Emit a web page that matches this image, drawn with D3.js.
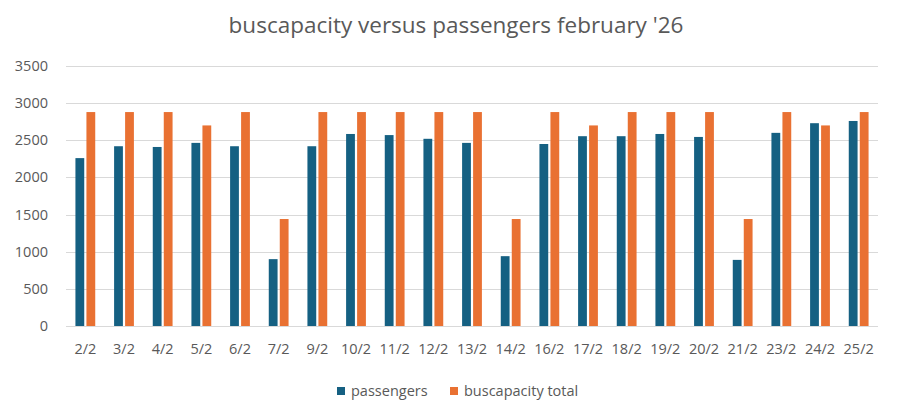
<!DOCTYPE html>
<html>
  <head>
  <title>buscapacity versus passengers</title>
  </head>
  <body>

  <svg id="svg" width="897" height="408"></svg>

  <script src="https://d3js.org/d3.v7.min.js"></script>
  <script>
        const days = ['2/2', '3/2', '4/2', '5/2', '6/2', '7/2', '9/2', '10/2', '11/2', '12/2', '13/2',
            '14/2', '16/2', '17/2', '18/2', '19/2', '20/2', '21/2', '23/2', '24/2', '25/2']
        const passengers = [2260, 2420, 2410, 2465, 2420, 900, 2420, 2585, 2570, 2520, 2465,
            940, 2450, 2555, 2555, 2585, 2545, 890, 2600, 2730, 2760]
        const capacity = [2880, 2880, 2880, 2700, 2880, 1440, 2880, 2880, 2880, 2880, 2880,
            1440, 2880, 2700, 2880, 2880, 2880, 1440, 2880, 2700, 2880]
        const yTicks = [0, 500, 1000, 1500, 2000, 2500, 3000, 3500]
        const seriesNames = ['passengers', 'buscapacity total']
        const colors = ['#156082', '#e97132']

        const svg = d3.select('#svg')
        const plotLeft = 66, plotRight = 878, plotTop = 66, plotBottom = 326

        const xscale = d3.scaleBand()
            .domain(days)
            .range([plotLeft, plotRight])
        const yscale = d3.scaleLinear()
            .domain([0, 3500])
            .range([plotBottom, plotTop])

        const barW = 8.8, gap = 2.2

        // gridlines
        svg.append('g')
            .selectAll('line')
            .data(yTicks)
            .join('line')
            .attr('x1', plotLeft)
            .attr('x2', plotRight)
            .attr('y1', d => Math.round(yscale(d)) + 0.5)
            .attr('y2', d => Math.round(yscale(d)) + 0.5)
            .attr('stroke', '#d9d9d9')
            .attr('stroke-width', 1)

        // y labels
        svg.append('g')
            .selectAll('text')
            .data(yTicks)
            .join('text')
            .attr('x', 48)
            .attr('y', d => yscale(d) + 5)
            .attr('text-anchor', 'end')
            .text(d => d)

        // bars
        const series = [passengers, capacity]
        series.forEach((vals, s) => {
            svg.append('g')
                .selectAll('rect')
                .data(vals)
                .join('rect')
                .attr('x', (d, i) => xscale(days[i]) + xscale.bandwidth() / 2 + (s === 0 ? -barW - gap / 2 : gap / 2))
                .attr('y', d => yscale(d))
                .attr('width', barW)
                .attr('height', d => plotBottom - yscale(d))
                .attr('fill', colors[s])
        })

        // x labels
        svg.append('g')
            .selectAll('text')
            .data(days)
            .join('text')
            .attr('x', d => xscale(d) + xscale.bandwidth() / 2)
            .attr('y', 354)
            .attr('text-anchor', 'middle')
            .text(d => d)

        // title
        svg.append('text')
            .attr('x', 456)
            .attr('y', 33)
            .attr('text-anchor', 'middle')
            .attr('font-size', 22.5)
            .text("buscapacity versus passengers february '26")

        // legend
        const legendX = [337, 450]
        const legend = svg.append('g')
            .selectAll('g')
            .data(seriesNames)
            .join('g')
            .attr('transform', (d, i) => `translate(${legendX[i]}, 387)`)
        legend.append('rect')
            .attr('width', 8)
            .attr('height', 8)
            .attr('fill', (d, i) => colors[i])
        legend.append('text')
            .attr('x', 14)
            .attr('y', 9)
            .text(d => d)
  </script>
  <style>
    body, html {
      margin: 0;
      padding: 0;
      background: #fff;
    }
    #svg {
      display: block;
      font-family: 'Open Sans', 'Liberation Sans', sans-serif;
      font-size: 14.5px;
    }
    #svg text {
      fill: #595959;
    }
  </style>
  </body>
</html>
